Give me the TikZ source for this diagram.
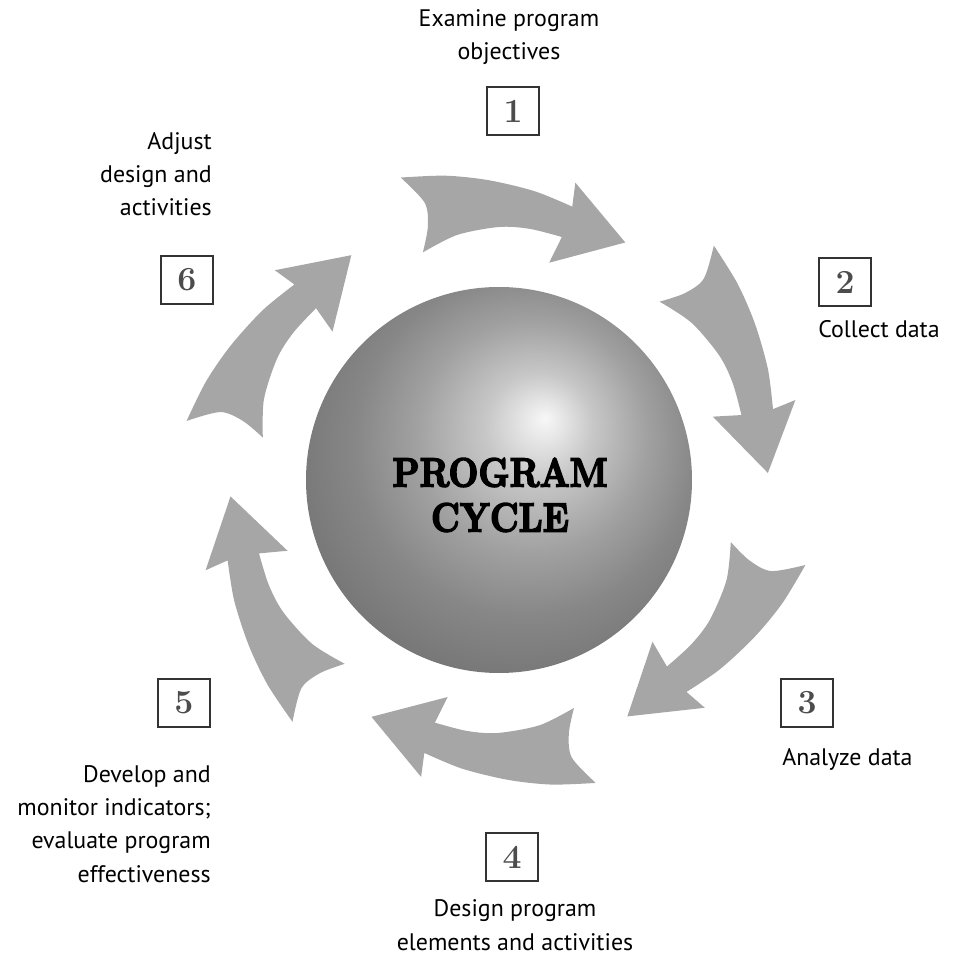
\documentclass[tikz,border=0pt]{standalone}
\usepackage{fontspec}
\setsansfont{PT Sans}
\newfontfamily\titlefont{lmroman10-bold.otf}[FakeBold=4]
\usepackage{graphicx}
\definecolor{shaftgray}{gray}{0.65}
\definecolor{numgray}{gray}{0.3}
\pgfdeclareradialshading{orb}{\pgfpoint{6bp}{8bp}}{%
  color(0bp)=(black!3); color(7bp)=(black!22); color(15bp)=(black!37);
  color(22bp)=(black!47); color(30bp)=(black!54); color(37bp)=(black!56);
  color(50bp)=(black!56)}
\tikzset{
  num/.style={draw=black!80, line width=1pt, fill=white, inner sep=0pt,
    minimum width=1.3cm, minimum height=1.2cm, text=numgray,
    font=\fontsize{24}{24}\selectfont\bfseries},
  lab/.style={inner sep=0pt, font=\sffamily\fontsize{17}{23.5}\selectfont},
  shaft/.style={fill=shaftgray}
}
\newcommand{\cyclearrow}[1]{
  \fill[shaft, rotate=#1]
    plot[smooth] coordinates {(46:318) (38:309) (30:300) (21:291) (13:283)}
    -- (13.6:307) -- (0:269) -- (15:223) -- (13.5:251)
    -- plot[smooth] coordinates {(13.5:251) (21:253) (28:253) (37.7:248.6) (46.5:240)}
    -- plot[smooth] coordinates {(46.5:240) (43.7:263) (43:287) (46:318)} -- cycle
}

\begin{document}
\begin{tikzpicture}[x=0.025cm, y=0.025cm]
  \useasboundingbox (-499,-477) rectangle (455,480);
  \shade[shading=orb] (0,0) circle (193);
  \node[font=\titlefont\fontsize{29}{32}\selectfont, align=center, text=black] (title) at (1,-15)
    {\scalebox{0.85}[1]{PROGRAM}\\\scalebox{0.85}[1]{CYCLE}};

  \foreach \t in {62, 1.5, -61.5, -118.3, 183.5, 123.3} {\cyclearrow{\t};}

  \node[num] (n1) at (14,369) {1};
  \node[num] (n2) at (346,198) {2};
  \node[num] (n3) at (308,-223) {3};
  \node[num] (n4) at (13,-377) {4};
  \node[num] (n5) at (-315,-223) {5};
  \node[num] (n6) at (-312,200) {6};

  % multi-line labels sit on their last line
  \node[lab, align=center, anchor=base] (t1) at (10,420) {Examine program\\objectives};
  \node[lab, anchor=base west] (t2) at (319,142) {Collect data};
  \node[lab, anchor=base west] (t3) at (283,-285) {Analyze data};
  \node[lab, align=center, anchor=base] (t4) at (16,-470) {Design program\\elements and activities};
  \node[lab, align=right, anchor=base east] (t5) at (-288,-402) {Develop and\\monitor indicators;\\evaluate program\\effectiveness};
  \node[lab, align=right, anchor=base east] (t6) at (-287,264) {Adjust\\design and\\activities};
\end{tikzpicture}
\end{document}
